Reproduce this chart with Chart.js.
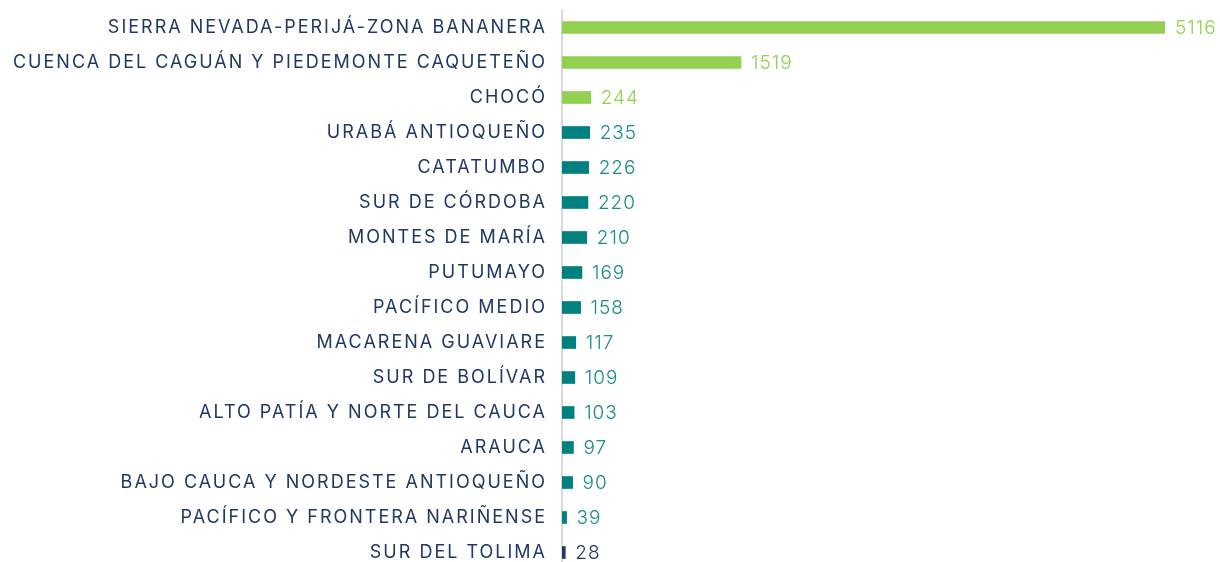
<!DOCTYPE html>
<html>
<head>
<meta charset="utf-8">
<script src="https://cdn.jsdelivr.net/npm/chart.js@4/dist/chart.umd.min.js"></script>
<style>
html,body{margin:0;padding:0;background:#fff;overflow:hidden;}
canvas{display:block;}
</style>
</head>
<body>
<canvas id="c" width="1220" height="572"></canvas>
<script>
const categories = [
  "SIERRA NEVADA-PERIJÁ-ZONA BANANERA",
  "CUENCA DEL CAGUÁN Y PIEDEMONTE CAQUETEÑO",
  "CHOCÓ",
  "URABÁ ANTIOQUEÑO",
  "CATATUMBO",
  "SUR DE CÓRDOBA",
  "MONTES DE MARÍA",
  "PUTUMAYO",
  "PACÍFICO MEDIO",
  "MACARENA GUAVIARE",
  "SUR DE BOLÍVAR",
  "ALTO PATÍA Y NORTE DEL CAUCA",
  "ARAUCA",
  "BAJO CAUCA Y NORDESTE ANTIOQUEÑO",
  "PACÍFICO Y FRONTERA NARIÑENSE",
  "SUR DEL TOLIMA"
];
const values = [5116, 1519, 244, 235, 226, 220, 210, 169, 158, 117, 109, 103, 97, 90, 39, 28];

const GREEN = "#92D050", TEAL = "#00807F", NAVY = "#1F3864";
const GREEN_TXT = "#92D050", TEAL_TXT = "#1A8C8A", NAVY_TXT = "#1F3864";
const barColors = values.map((v, i) => i < 3 ? GREEN : (i === values.length - 1 ? NAVY : TEAL));
const txtColors = values.map((v, i) => i < 3 ? GREEN_TXT : (i === values.length - 1 ? NAVY_TXT : TEAL_TXT));

const FONT = "Inter, 'Noto Sans', sans-serif";

const spacing = {
  id: 'spacing',
  beforeDraw(chart) { chart.ctx.letterSpacing = '2px'; },
  afterDraw(chart) { chart.ctx.letterSpacing = '0px'; }
};

const valueLabels = {
  id: 'valueLabels',
  afterDatasetsDraw(chart) {
    const ctx = chart.ctx;
    const meta = chart.getDatasetMeta(0);
    ctx.save();
    ctx.letterSpacing = '1px';
    ctx.font = "300 19px " + FONT;
    ctx.textBaseline = 'middle';
    ctx.textAlign = 'left';
    meta.data.forEach((bar, i) => {
      ctx.fillStyle = txtColors[i];
      ctx.fillText(String(values[i]), bar.x + 10, bar.y + 1);
    });
    ctx.restore();
  }
};

new Chart(document.getElementById('c'), {
  type: 'bar',
  data: {
    labels: categories,
    datasets: [{
      data: values,
      backgroundColor: barColors,
      barThickness: 12,
      borderWidth: 0
    }]
  },
  options: {
    indexAxis: 'y',
    responsive: false,
    maintainAspectRatio: false,
    animation: false,
    devicePixelRatio: 1,
    layout: { padding: { top: 10, bottom: 2, right: 55, left: 0 } },
    plugins: { legend: { display: false }, tooltip: { enabled: false } },
    scales: {
      x: { display: false, min: 0, max: 5116 },
      y: {
        grid: { display: false, drawTicks: false },
        border: { display: true, color: "#D9D9D9", width: 2 },
        ticks: {
          color: "#1F3864",
          font: { family: FONT, size: 18 },
          padding: 15,
          autoSkip: false
        },
        afterFit(scale) {
          scale.width = 562;
          scale.paddingTop = 0;
          scale.paddingBottom = 0;
        }
      }
    }
  },
  plugins: [spacing, valueLabels]
});
</script>
</body>
</html>
